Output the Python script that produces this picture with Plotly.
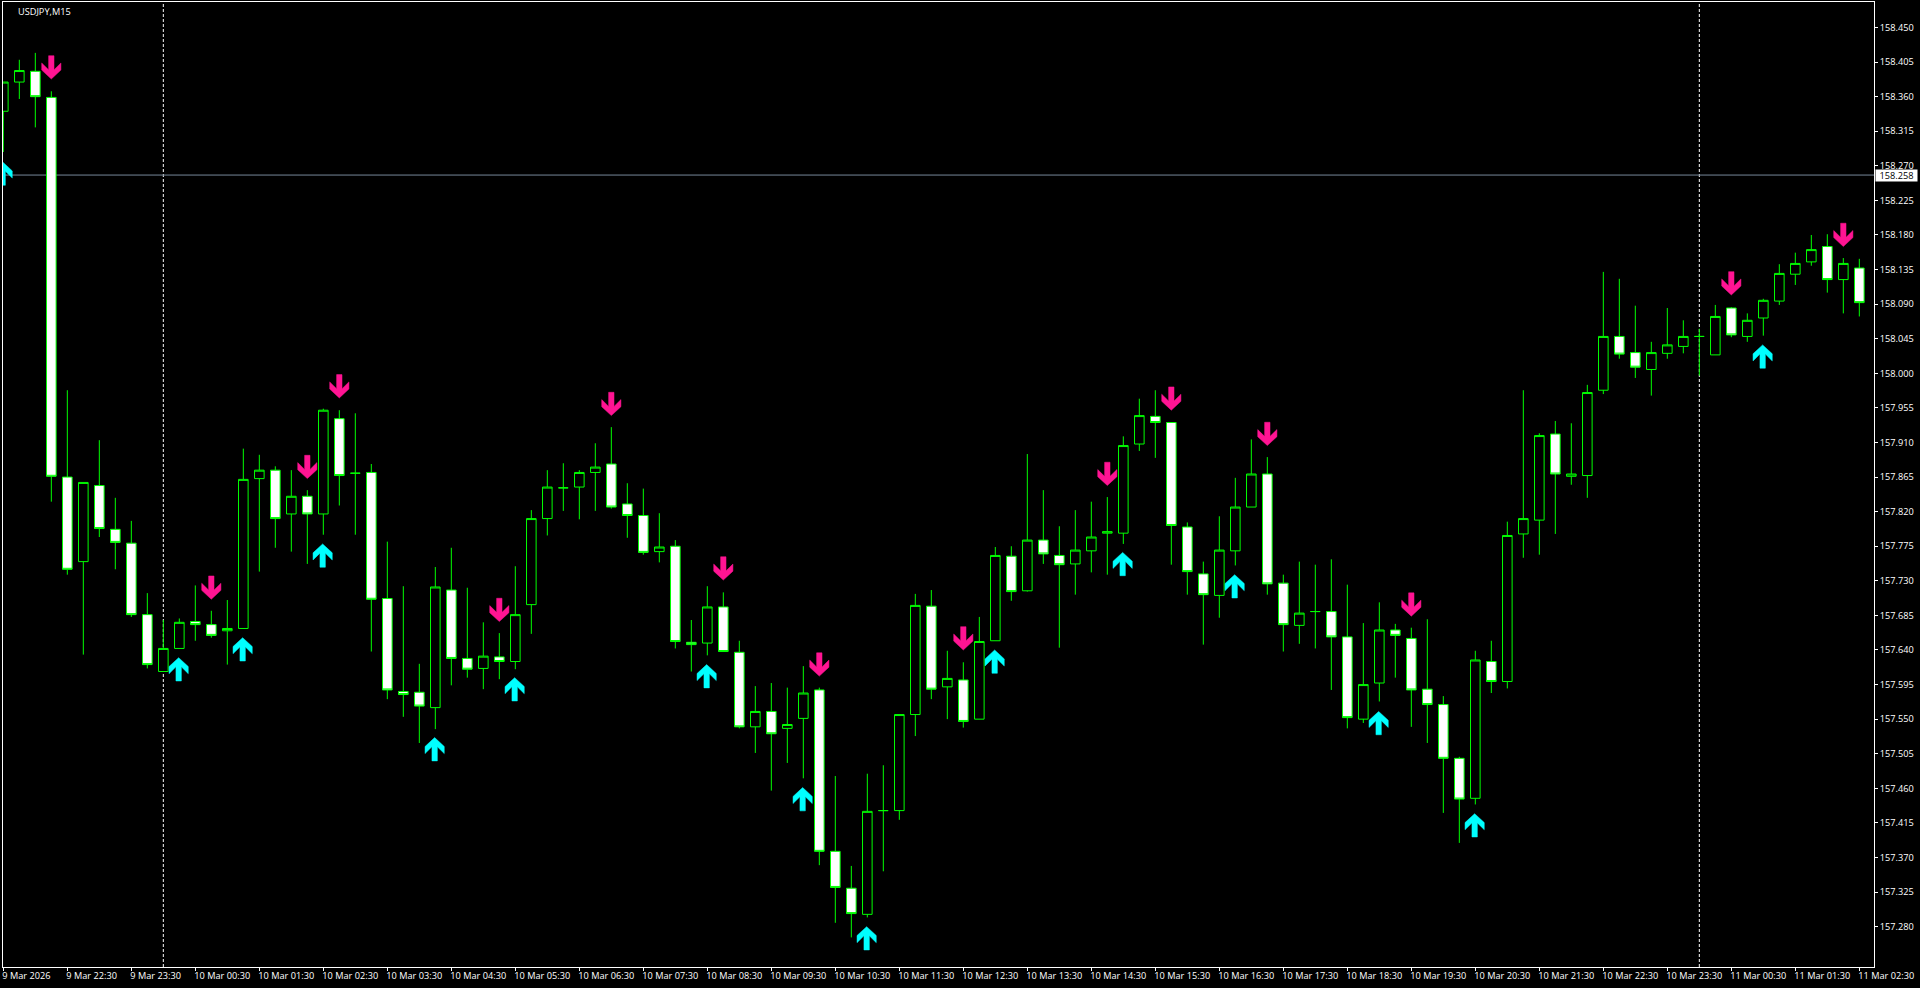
import plotly.graph_objects as go

# ---------- data ----------
opens = [158.341,158.379,158.393,158.359,157.865,157.755,157.854,157.797,157.779,157.686,
157.612,157.642,157.677,157.673,157.665,157.668,157.863,157.874,157.817,157.840,
157.817,157.941,157.870,157.871,157.707,157.586,157.585,157.565,157.718,157.629,
157.616,157.631,157.625,157.699,157.811,157.851,157.852,157.871,157.882,157.830,
157.815,157.768,157.775,157.650,157.649,157.696,157.637,157.540,157.560,157.538,
157.551,157.588,157.378,157.330,157.296,157.431,157.431,157.556,157.697,157.592,
157.601,157.550,157.652,157.762,157.717,157.783,157.763,157.752,157.769,157.792,
157.792,157.908,157.944,157.936,157.800,157.739,157.711,157.769,157.826,157.869,
157.727,157.672,157.690,157.690,157.657,157.550,157.597,157.666,157.655,157.589,
157.569,157.499,157.447,157.625,157.599,157.791,157.809,157.921,157.866,157.867,
157.978,158.048,158.027,158.005,158.026,158.035,158.048,158.024,158.085,158.048,
158.072,158.094,158.129,158.145,158.165,158.122,158.137]
highs = [158.379,158.408,158.417,158.367,157.978,157.858,157.913,157.838,157.808,157.714,
157.679,157.681,157.724,157.691,157.705,157.902,157.894,157.879,157.874,157.848,
157.954,157.952,157.948,157.882,157.781,157.723,157.622,157.748,157.773,157.721,
157.676,157.662,157.749,157.822,157.874,157.883,157.874,157.909,157.930,157.857,
157.850,157.818,157.783,157.679,157.723,157.715,157.652,157.593,157.597,157.591,
157.619,157.591,157.476,157.359,157.479,157.490,157.556,157.713,157.718,157.639,
157.624,157.683,157.774,157.775,157.895,157.848,157.801,157.822,157.833,157.839,
157.918,157.967,157.978,157.936,157.806,157.755,157.814,157.864,157.914,157.891,
157.738,157.755,157.751,157.758,157.725,157.675,157.702,157.674,157.669,157.680,
157.580,157.501,157.639,157.652,157.807,157.978,157.922,157.938,157.935,157.985,
158.132,158.123,158.088,158.041,158.085,158.069,158.058,158.089,158.086,158.078,
158.097,158.142,158.157,158.180,158.181,158.150,158.149]
lows = [158.288,158.357,158.320,157.833,157.738,157.634,157.787,157.745,157.683,157.616,
157.612,157.642,157.652,157.656,157.621,157.668,157.742,157.773,157.768,157.752,
157.790,157.828,157.790,157.638,157.576,157.553,157.519,157.537,157.594,157.604,
157.589,157.602,157.615,157.661,157.789,157.821,157.810,157.821,157.824,157.786,
157.764,157.754,157.642,157.612,157.633,157.638,157.538,157.506,157.457,157.493,
157.473,157.360,157.285,157.266,157.292,157.352,157.419,157.528,157.576,157.550,
157.539,157.550,157.652,157.704,157.716,157.752,157.643,157.712,157.741,157.738,
157.778,157.899,157.890,157.751,157.712,157.647,157.682,157.750,157.826,157.712,
157.638,157.648,157.642,157.588,157.538,157.545,157.573,157.604,157.540,157.519,
157.428,157.389,157.439,157.584,157.590,157.760,157.764,157.791,157.855,157.838,
157.973,158.019,157.994,157.971,158.019,158.026,157.997,158.024,158.047,158.041,
158.049,158.089,158.115,158.140,158.105,158.078,158.074]
closes = [158.379,158.394,158.360,157.866,157.745,157.858,157.798,157.780,157.686,157.621,
157.642,157.676,157.673,157.659,157.668,157.862,157.874,157.811,157.840,157.817,
157.952,157.867,157.870,157.706,157.588,157.582,157.567,157.722,157.629,157.615,
157.632,157.625,157.686,157.811,157.852,157.851,157.871,157.878,157.826,157.815,
157.767,157.774,157.651,157.647,157.696,157.638,157.540,157.560,157.531,157.543,
157.584,157.378,157.331,157.297,157.430,157.431,157.556,157.698,157.589,157.603,
157.547,157.651,157.763,157.716,157.783,157.765,157.751,157.770,157.787,157.794,
157.906,157.945,157.936,157.802,157.742,157.712,157.770,157.826,157.869,157.726,
157.673,157.688,157.690,157.657,157.552,157.595,157.666,157.659,157.588,157.569,
157.499,157.446,157.627,157.599,157.789,157.811,157.919,157.869,157.869,157.975,
158.048,158.025,158.008,158.027,158.037,158.048,158.048,158.074,158.050,158.069,
158.095,158.130,158.143,158.161,158.122,158.143,158.092]

sell_bars = [3,13,19,21,31,38,45,51,60,69,73,79,88,108,115]
sell_prices = [158.383,157.706,157.863,157.968,157.677,157.945,157.731,157.606,157.640,157.854,
157.952,157.906,157.684,158.102,158.165]
buy_bars = [0,11,15,20,27,32,44,50,54,62,70,77,86,92,110]
buy_prices = [158.275,157.630,157.656,157.778,157.526,157.604,157.621,157.461,157.280,157.640,
157.767,157.738,157.560,157.427,158.037]

x_tick_bars = list(range(0, 117, 4))
x_tick_labels = ["9 Mar 2026","9 Mar 22:30","9 Mar 23:30","10 Mar 00:30","10 Mar 01:30","10 Mar 02:30",
"10 Mar 03:30","10 Mar 04:30","10 Mar 05:30","10 Mar 06:30","10 Mar 07:30","10 Mar 08:30",
"10 Mar 09:30","10 Mar 10:30","10 Mar 11:30","10 Mar 12:30","10 Mar 13:30","10 Mar 14:30",
"10 Mar 15:30","10 Mar 16:30","10 Mar 17:30","10 Mar 18:30","10 Mar 19:30","10 Mar 20:30",
"10 Mar 21:30","10 Mar 22:30","10 Mar 23:30","11 Mar 00:30","11 Mar 01:30","11 Mar 02:30"]
y_ticks = [158.450,158.405,158.360,158.315,158.270,158.225,158.180,158.135,158.090,158.045,
158.000,157.955,157.910,157.865,157.820,157.775,157.730,157.685,157.640,157.595,
157.550,157.505,157.460,157.415,157.370,157.325,157.280]
y_labels = ["%.3f" % v for v in y_ticks]

day_separators = [10, 106]
current_price = 158.258
symbol_label = "USDJPY,M15"

# ---------- style ----------
W, H = 1920, 988
M_L, M_R, M_T, M_B = 3, 46, 2, 21
PX_PER_BAR = 16.0
PX_PER_PRICE = 768.5
GREEN = "#00FF00"
FONT = "Open Sans"
FS = 9.2

# arrow outline (pixels), tip at origin, dy pointing away from the tip
ARROW_DX = [0, 9.6, 9.6, 2.7, 2.7, -2.7, -2.7, -9.6, -9.6, 0]
ARROW_DY = [0, 8.9, 16, 9.2, 23.3, 23.3, 9.2, 16, 8.9, 0]


def arrow_trace(bars, prices, sign, color, dx0, name):
    xs, ys = [], []
    for b, p in zip(bars, prices):
        xs += [b + (dx + dx0) / PX_PER_BAR for dx in ARROW_DX] + [None]
        ys += [p + sign * dy / PX_PER_PRICE for dy in ARROW_DY] + [None]
    return go.Scatter(x=xs, y=ys, mode="lines", fill="toself", fillcolor=color,
                      line=dict(color=color, width=0.5), hoverinfo="skip",
                      showlegend=False, name=name)


fig = go.Figure()
fig.add_trace(go.Candlestick(
    x=list(range(len(opens))), open=opens, high=highs, low=lows, close=closes,
    increasing=dict(line=dict(color=GREEN, width=1), fillcolor="#000000"),
    decreasing=dict(line=dict(color=GREEN, width=1), fillcolor="#FFFFFF"),
    whiskerwidth=0, showlegend=False, name="USDJPY",
))
fig.add_trace(arrow_trace(sell_bars, sell_prices, 1, "#FF1493", 0, "sell"))
fig.add_trace(arrow_trace(buy_bars, buy_prices, -1, "#00FFFF", -0.67, "buy"))

x0 = -0.02
x1 = x0 + (W - M_L - M_R) / PX_PER_BAR
y_top = 158.45 + (27.5 - M_T) / PX_PER_PRICE
y_bot = y_top - (H - M_T - M_B) / PX_PER_PRICE

shapes = [dict(type="line", xref="x", yref="paper", x0=b, x1=b, y0=0, y1=1, layer="below",
               line=dict(color="#FFFFFF", width=1, dash="3px,2px")) for b in day_separators]
shapes.append(dict(type="line", xref="paper", yref="y", x0=0, x1=1, y0=current_price, y1=current_price,
                   layer="below", line=dict(color="#778899", width=1)))

fig.update_layout(
    width=W, height=H, autosize=False,
    margin=dict(l=M_L, r=M_R, t=M_T, b=M_B, pad=0),
    paper_bgcolor="#000000", plot_bgcolor="#000000",
    boxgap=0.4, boxgroupgap=0, showlegend=False, shapes=shapes,
    font=dict(family=FONT, size=FS, color="#FFFFFF"),
    xaxis=dict(range=[x0, x1], rangeslider=dict(visible=False), showgrid=False, zeroline=False,
               tickmode="array", tickvals=x_tick_bars, ticktext=x_tick_labels, tickangle=0,
               ticks="outside", ticklen=3, tickwidth=1, tickcolor="#FFFFFF",
               ticklabelposition="outside right", ticklabelshift=-2,
               tickfont=dict(family=FONT, size=FS, color="#FFFFFF"),
               showline=True, linecolor="#FFFFFF", linewidth=1, mirror=True),
    yaxis=dict(range=[y_bot, y_top], side="right", showgrid=False, zeroline=False,
               tickmode="array", tickvals=y_ticks, ticktext=y_labels,
               ticks="outside", ticklen=3, tickwidth=1, tickcolor="#FFFFFF",
               tickfont=dict(family=FONT, size=FS, color="#FFFFFF"),
               showline=True, linecolor="#FFFFFF", linewidth=1, mirror=True),
    annotations=[
        dict(text=symbol_label, xref="paper", yref="paper", x=0, y=1, xanchor="left", yanchor="top",
             xshift=13, yshift=-1, showarrow=False, font=dict(family=FONT, size=FS, color="#FFFFFF")),
        dict(text="%.3f" % current_price, xref="paper", yref="y", x=1, y=current_price, xanchor="left",
             yanchor="middle", xshift=1, showarrow=False, bgcolor="#FFFFFF", borderpad=1,
             width=39, height=9, align="center",
             font=dict(family=FONT, size=FS, color="#000000")),
    ],
)

fig.write_html("out.html", include_plotlyjs=True, config={"displayModeBar": False},
               post_script="document.body.style.margin='0';document.body.style.background='#000';document.body.style.overflow='hidden';")
